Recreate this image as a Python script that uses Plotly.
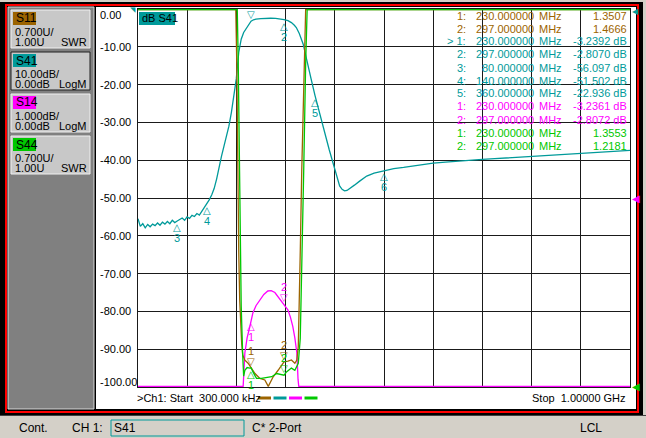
import plotly.graph_objects as go
import numpy as np

# ---- trace data (frequency in MHz) ----
s41_freq = [0.3, 5, 10, 15, 20, 25, 30, 35, 40, 45, 50, 55, 60, 65, 70, 75, 80, 85, 90, 95,
            100, 105, 110, 115, 120, 125, 130, 135, 140, 145, 150, 155, 160, 165, 170, 175,
            180, 185, 190, 195, 200, 205, 210, 215, 220, 225, 230, 235, 240, 250, 260, 270,
            280, 290, 297, 305, 312, 318, 322, 328, 332, 336, 341, 346, 352, 360, 368, 376,
            383, 389, 395, 400, 405, 410, 415, 420, 425, 430, 440, 450, 465, 480, 500, 520,
            540, 560, 580, 600, 625, 650, 675, 700, 725, 750, 775, 800, 825, 850, 875, 900,
            925, 950, 975, 1000]
s41_db = [-55.5, -57.5, -56.8, -57.9, -57.0, -57.6, -56.9, -57.3, -56.6, -57.2, -56.4, -56.9,
          -56.2, -56.8, -55.9, -56.5, -56.1, -55.8, -55.3, -55.9, -55.0, -55.4, -54.6, -54.9,
          -54.1, -54.5, -53.5, -52.8, -51.5, -50.5, -49.2, -47.5, -45.0, -41.5, -38.9, -36.3,
          -33.7, -31.0, -27.4, -23.0, -18.5, -11.5, -8.0, -6.2, -5.2, -4.1, -3.24, -2.85, -2.65,
          -2.55, -2.45, -2.45, -2.5, -2.6, -2.81, -3.1, -3.6, -4.3, -4.9, -6.5, -8.0, -9.3,
          -12.2, -15.3, -18.5, -22.9, -27.0, -31.0, -34.5, -37.3, -40.0, -42.5, -45.0, -46.8,
          -47.7, -48.1, -48.0, -47.6, -46.6, -45.6, -44.2, -43.4, -42.7, -42.2, -41.9, -41.5,
          -41.1, -40.8, -40.5, -40.2, -40.0, -39.8, -39.6, -39.4, -39.1, -38.9, -38.7, -38.6,
          -38.3, -38.2, -38.0, -37.8, -37.6, -37.4]

s14_freq = [0.3, 212, 214, 217.4, 222, 227.6, 230, 233.7, 240, 247.9, 256, 264.1, 271, 278.4,
            285, 292.6, 297, 304.8, 310, 314.9, 319, 323.1, 325.5, 327, 1000]
s14_db = [-40, -40, -6.0, -4.1, -3.7, -3.4, -3.2361, -3.04, -2.85, -2.7, -2.55, -2.46, -2.45,
          -2.5, -2.62, -2.75, -2.8072, -2.96, -3.15, -3.4, -3.7, -4.1, -4.8, -40, -40]

s11_freq = [0.3, 199, 201, 203, 205, 207, 209, 211, 213, 217, 224, 230, 238, 248, 258, 265,
            275, 285, 297, 305, 312, 319, 323, 326, 328, 330, 333, 337, 341, 345, 1000]
s11_swr = [40, 40, 7.0, 5.0, 3.5, 2.6, 2.1, 1.8, 1.6, 1.5, 1.44, 1.3507, 1.25, 1.16, 1.13, 1.0,
           1.19, 1.31, 1.4666, 1.48, 1.5, 1.44, 1.5, 1.75, 2.5, 3.5, 5.0, 6.5, 8.2, 40, 40]

s44_freq = [0.3, 202, 204, 207, 210, 213, 215, 217.4, 222, 227.6, 230, 234, 241, 251, 261.6,
            272, 282, 292, 297, 302, 312, 319, 326, 330, 333, 337, 341, 344, 346, 1000]
s44_swr = [40, 40, 7.0, 4.0, 2.5, 1.6, 1.2, 1.31, 1.36, 1.35, 1.3553, 1.28, 1.16, 1.16, 1.18,
           1.19, 1.25, 1.22, 1.2181, 1.28, 1.35, 1.31, 1.44, 1.9, 3.0, 5.0, 7.0, 8.5, 40, 40]

# ---- marker readout table ----
mk_trace = ["S11", "S11", "S41", "S41", "S41", "S41", "S41", "S14", "S14", "S44", "S44"]
mk_num = [1, 2, 1, 2, 3, 4, 5, 1, 2, 1, 2]
mk_freq = [230, 297, 230, 297, 80, 140, 360, 230, 297, 230, 297]
mk_val = [1.3507, 1.4666, -3.2392, -2.8070, -56.097, -51.502, -22.936, -3.2361, -2.8072,
          1.3553, 1.2181]
mk_dir = ["down", "down", "down", "up", "up", "up", "up", "up", "down", "up", "down"]
# marker shown on screen only
extra_trace, extra_num, extra_freq, extra_val = "S41", 6, 500, -42.7

# ---- trace setup panel ----
panel_names = ["S11", "S41", "S14", "S44"]
panel_scale = ["0.700U/", "10.00dB/", "1.000dB/", "0.700U/"]
panel_ref = ["1.00U", "0.00dB", "0.00dB", "1.00U"]
panel_fmt = ["SWR", "LogM", "LogM", "SWR"]

colors = {"S11": "#9c6400", "S41": "#009a9a", "S14": "#ff00ff", "S44": "#00c800"}
yref = {"S11": "y3", "S41": "y", "S14": "y2", "S44": "y3"}
units = {"S11": "", "S41": " dB", "S14": " dB", "S44": ""}

W, H = 646, 438
L, R, T, B = 138, 630, 9, 387
FONT = "Liberation Sans"


def px(x):
    return (x - L) / (R - L)


def py(y):
    return (B - y) / (B - T)


def rect(x0, y0, x1, y1, fill=None, line=None, lw=1):
    return dict(type="rect", xref="paper", yref="paper", layer="below",
                x0=px(x0), x1=px(x1), y0=py(y1), y1=py(y0),
                fillcolor=fill if fill else "rgba(0,0,0,0)",
                line=dict(color=line if line else "rgba(0,0,0,0)", width=lw if line else 0))


def hline(x0, x1, y, color, lw=1, layer="below"):
    return dict(type="line", xref="paper", yref="paper", layer=layer,
                x0=px(x0), x1=px(x1), y0=py(y), y1=py(y), line=dict(color=color, width=lw))


def text(x, y, s, color="black", size=11, anchor="left", **kw):
    return dict(xref="paper", yref="paper", x=px(x), y=py(y), text=s, showarrow=False,
                xanchor=anchor, yanchor="middle", font=dict(family=FONT, size=size, color=color),
                **kw)


fig = go.Figure()

# clamp to the screen edges the way the analyser does
y_ranges = {"y": (-100, 0), "y2": (-5, 5), "y3": (1.0, 8.0)}


def clamp(vals, ax):
    lo, hi = y_ranges[ax]
    eps = (hi - lo) / (B - T) * 0.6
    return np.clip(np.array(vals, dtype=float), lo + eps, hi - eps)


series = [("S11", s11_freq, s11_swr), ("S44", s44_freq, s44_swr),
          ("S14", s14_freq, s14_db), ("S41", s41_freq, s41_db)]
for name, f, v in series:
    fig.add_trace(go.Scatter(x=f, y=clamp(v, yref[name]), mode="lines",
                             line=dict(color=colors[name], width=1.3),
                             yaxis=yref[name], hoverinfo="skip", showlegend=False))

shapes = []
ann = []

# window frame
shapes.append(rect(0, 2, 643, 415, fill="#000000"))
shapes.append(rect(6, 5, 638, 412, fill="#000000", line="#ff0000", lw=2))
shapes.append(rect(8, 7, 94, 409, fill="#808080", line="#d8d8d8", lw=1))
shapes.append(rect(96, 7, 636, 409, fill="#ffffff"))
shapes.append(rect(0, 416, 646, 438, fill="#d4d0c8"))
shapes.append(hline(0, 646, 415.5, "#404040"))

# trace setup boxes
for i, name in enumerate(panel_names):
    top = 10 + 42 * i
    shapes.append(rect(11, top, 90, top + 38, fill="#c8c8c8",
                       line="#202020" if name == "S41" else "#f0f0f0", lw=1))
    shapes.append(rect(13, top + 2, 36, top + 15, fill=colors[name]))
    ann.append(text(13.5, top + 8.5, name, size=12))
    ann.append(text(13, top + 22, panel_scale[i]))
    ann.append(text(13, top + 32, panel_ref[i]))
    ann.append(text(89, top + 32, panel_fmt[i], anchor="right"))

# y axis labels (S41 scale)
for v in range(0, -101, -10):
    yy = T + (-v) / 100 * (B - T)
    if v == 0:
        yy += 6
    if v == -100:
        yy -= 5
    ann.append(text(97.5, yy, f"{v:.2f}"))

# active trace title
shapes.append(rect(139, 12, 175, 25, fill=colors["S41"]))
ann.append(text(140, 18.5, "dB S41"))

# reference position arrows
for yy, name, sz in [(198, "S14", 10), (386, "S44", 10), (12, "S41", 8)]:
    ann.append(dict(xref="paper", yref="paper", x=px(629.5), y=py(yy), text="◀",
                    showarrow=False, xanchor="left", yanchor="middle",
                    font=dict(family="DejaVu Sans", size=sz, color=colors[name])))
ann.append(dict(xref="paper", yref="paper", x=px(138), y=py(10), text="◥", showarrow=False,
                xanchor="right", yanchor="middle",
                font=dict(family="DejaVu Sans", size=7, color=colors["S41"])))

# marker readout table
for i in range(len(mk_trace)):
    yy = 15.5 + 13 * i
    c = colors[mk_trace[i]]
    prefix = "> " if (mk_trace[i] == "S41" and mk_num[i] == 1) else ""
    ann.append(text(468, yy, f"{prefix}{mk_num[i]}:", color=c, anchor="right"))
    ann.append(text(535.5, yy, f"{mk_freq[i]:.6f}", color=c, anchor="right"))
    ann.append(text(537, yy, "MHz", color=c))
    ann.append(text(628.5, yy, format(mk_val[i], "#.5g") + units[mk_trace[i]], color=c,
                    anchor="right"))

# on-screen marker glyphs
marks = list(zip(mk_trace, mk_num, mk_freq, mk_val, mk_dir))
marks.append((extra_trace, extra_num, extra_freq, extra_val, "up"))
for name, n, f, v, d in marks:
    c = colors[name]
    up = d == "up"
    ann.append(dict(xref="x", yref=yref[name], x=f, y=v, text="△" if up else "▽",
                    showarrow=False, xanchor="center", yanchor="top" if up else "bottom",
                    yshift=1 if up else -1, font=dict(family="DejaVu Sans", size=10, color=c)))
    if name == "S41" and n == 1:
        continue  # label falls off the top of the screen
    ann.append(dict(xref="x", yref=yref[name], x=f, y=v, text=str(n), showarrow=False,
                    xanchor="center", yanchor="top" if up else "bottom",
                    yshift=-9 if up else 9, font=dict(family=FONT, size=11, color=c)))

# start / stop line with trace colour keys
ann.append(text(135, 398, ">Ch1: Start  300.000 kHz"))
ann.append(text(628, 398, "Stop  1.00000 GHz", anchor="right"))
for k, name in enumerate(["S11", "S41", "S14", "S44"]):
    x0 = 258 + 15.5 * k
    shapes.append(hline(x0, x0 + 13, 398, colors[name], lw=3, layer="above"))

# status bar
ann.append(text(17, 428, "Cont.", size=12))
ann.append(text(70, 428, "CH 1:", size=12))
shapes.append(rect(111, 420, 244, 436, line=colors["S41"], lw=1))
ann.append(text(112, 428, "S41", size=12))
ann.append(text(250, 428, "C* 2-Port", size=12))
ann.append(text(578, 428, "LCL", size=12))

grid = dict(showgrid=True, gridcolor="#1a1a1a", gridwidth=1, zeroline=False,
            showticklabels=False, ticks="", showline=True, linecolor="#1a1a1a",
            linewidth=1, mirror=True, fixedrange=True)

fig.update_layout(
    width=W, height=H,
    margin=dict(l=L, r=W - R, t=T, b=H - B, pad=0),
    paper_bgcolor="#d4d0c8", plot_bgcolor="#ffffff",
    xaxis=dict(range=[0.3, 1000], tick0=0.3, dtick=99.97, **grid),
    yaxis=dict(range=[-100, 0], tick0=0, dtick=10, **grid),
    yaxis2=dict(range=list(y_ranges["y2"]), overlaying="y", visible=False, fixedrange=True),
    yaxis3=dict(range=list(y_ranges["y3"]), overlaying="y", visible=False, fixedrange=True),
    shapes=shapes, annotations=ann, showlegend=False,
    font=dict(family=FONT, size=11, color="black"),
)

fig.write_html("out.html", config={"displayModeBar": False, "staticPlot": True},
               post_script="document.body.style.margin='0';document.body.style.overflow='hidden';")
